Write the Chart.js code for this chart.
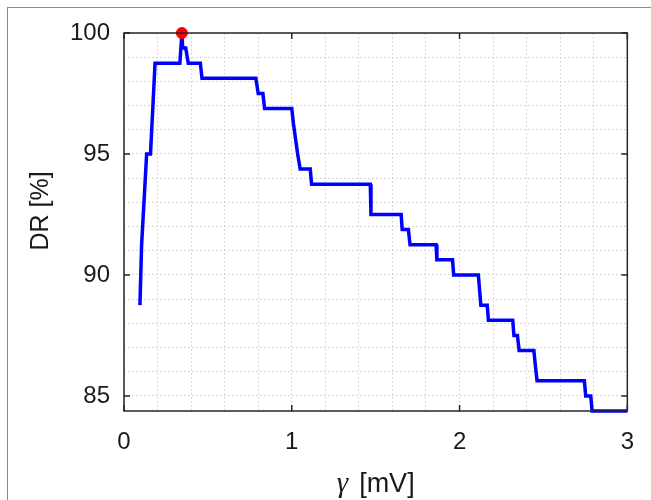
<!DOCTYPE html>
<html>
<head>
<meta charset="utf-8">
<script src="https://cdn.jsdelivr.net/npm/chart.js@4"></script>
<style>
  body { margin: 0; background: #fff; }
  #frame { position: absolute; left: 7px; top: 7px; width: 700px; height: 600px;
           border-left: 1.5px solid #8a8a8a; border-top: 1.5px solid #8a8a8a; }
  #wrap { position: absolute; left: 0; top: 0; width: 651px; height: 500px; }
</style>
</head>
<body>
<div id="frame"></div>
<div id="wrap"><canvas id="drChart" width="651" height="500"></canvas></div>
<script>
// gamma [mV] vs detection rate [%]
const gamma = [0.095, 0.105, 0.135, 0.158, 0.185, 0.333, 0.345, 0.35, 0.368, 0.383,
  0.455, 0.465, 0.786, 0.80, 0.828, 0.838, 1.0, 1.01, 1.035, 1.05, 1.11, 1.118,
  1.468, 1.472, 1.652, 1.658, 1.695, 1.705, 1.86, 1.865, 1.958, 1.965, 2.112, 2.127,
  2.165, 2.172, 2.317, 2.324, 2.345, 2.355, 2.443, 2.452, 2.462, 2.744, 2.752,
  2.782, 2.79, 3.0]
const dr = [88.75, 91.25, 95, 95, 98.75, 98.75, 100, 99.375, 99.375, 98.75,
  98.75, 98.125, 98.125, 97.5, 97.5, 96.875, 96.875, 96.25, 95, 94.375, 94.375, 93.75,
  93.75, 92.5, 92.5, 91.875, 91.875, 91.25, 91.25, 90.625, 90.625, 90, 90, 88.75,
  88.75, 88.125, 88.125, 87.5, 87.5, 86.875, 86.875, 86.25, 85.625, 85.625, 85,
  85, 84.375, 84.375]
const best = [{ x: 0.345, y: 100 }]

const xTicks = [0, 0.2, 0.4, 0.6, 0.8, 1, 1.2, 1.4, 1.6, 1.8, 2, 2.2, 2.4, 2.6, 2.8, 3]
const yTicks = [85, 86, 87, 88, 89, 90, 91, 92, 93, 94, 95, 96, 97, 98, 99, 100]
const xMajor = [0, 1, 2, 3]
const yMajor = [85, 90, 95, 100]

const points = gamma.map((g, i) => ({ x: g, y: dr[i] }))

// box around plot + inward ticks like matlab, and the axis titles
const boxPlugin = {
  id: 'box',
  afterDraw(chart) {
    const { ctx, chartArea: a, scales } = chart
    ctx.save()
    ctx.strokeStyle = '#262626'
    ctx.lineWidth = 1.5
    ctx.strokeRect(a.left, a.top, a.right - a.left, a.bottom - a.top)
    ctx.beginPath()
    xMajor.forEach(v => {
      const px = scales.x.getPixelForValue(v)
      ctx.moveTo(px, a.bottom); ctx.lineTo(px, a.bottom - 6)
      ctx.moveTo(px, a.top); ctx.lineTo(px, a.top + 6)
    })
    yMajor.forEach(v => {
      const py = scales.y.getPixelForValue(v)
      ctx.moveTo(a.left, py); ctx.lineTo(a.left + 6, py)
      ctx.moveTo(a.right, py); ctx.lineTo(a.right - 6, py)
    })
    ctx.stroke()

    // x title: serif gamma + sans unit
    ctx.fillStyle = '#1a1a1a'
    ctx.textBaseline = 'alphabetic'
    ctx.textAlign = 'left'
    const serif = 'italic 29px "Liberation Serif"'
    const sans = '27px "Liberation Sans"'
    const gap = 11
    ctx.font = serif
    const gw = ctx.measureText('γ').width
    ctx.font = sans
    const uw = ctx.measureText('[mV]').width
    let x0 = (a.left + a.right) / 2 - (gw + gap + uw) / 2
    ctx.font = serif
    ctx.fillText('γ', x0, 492)
    ctx.font = sans
    ctx.fillText('[mV]', x0 + gw + gap, 492)

    // y title
    ctx.translate(41, 211)
    ctx.rotate(-Math.PI / 2)
    ctx.textAlign = 'center'
    ctx.textBaseline = 'middle'
    ctx.font = '25px "Liberation Sans"'
    ctx.fillText('DR [%]', 0, 0)
    ctx.restore()
  }
}

const gridStyle = {
  color: '#cccccc',
  lineWidth: 1,
  drawTicks: false
}

new Chart(document.getElementById('drChart'), {
  type: 'line',
  data: {
    datasets: [
      {
        data: best,
        pointRadius: 5.5,
        pointBackgroundColor: '#ff0000',
        pointBorderColor: '#ff0000',
        showLine: false
      },
      {
        data: points,
        borderColor: '#0000ff',
        borderWidth: 3.5,
        pointRadius: 0,
        tension: 0,
        fill: false
      }
    ]
  },
  options: {
    responsive: false,
    animation: false,
    clip: false,
    layout: { padding: { left: 0, right: 23, top: 33, bottom: 0 } },
    plugins: { legend: { display: false }, tooltip: { enabled: false } },
    scales: {
      x: {
        type: 'linear',
        min: 0,
        max: 3,
        afterBuildTicks: s => { s.ticks = xTicks.map(v => ({ value: v })) },
        afterFit: s => { s.height = 89 },
        grid: gridStyle,
        border: { display: false, dash: [1.5, 2.5] },
        ticks: {
          padding: 17,
          maxRotation: 0,
          autoSkip: false,
          color: '#1a1a1a',
          font: { family: 'Liberation Sans', size: 24 },
          callback: v => (xMajor.includes(v) ? String(v) : '')
        }
      },
      y: {
        type: 'linear',
        min: 84.375,
        max: 100,
        afterBuildTicks: s => { s.ticks = yTicks.map(v => ({ value: v })) },
        afterFit: s => { s.width = 124 },
        grid: gridStyle,
        border: { display: false, dash: [1.5, 2.5] },
        ticks: {
          padding: 14,
          autoSkip: false,
          color: '#1a1a1a',
          font: { family: 'Liberation Sans', size: 24 },
          callback: v => (yMajor.includes(v) ? String(v) : '')
        }
      }
    }
  },
  plugins: [boxPlugin]
})
</script>
</body>
</html>
